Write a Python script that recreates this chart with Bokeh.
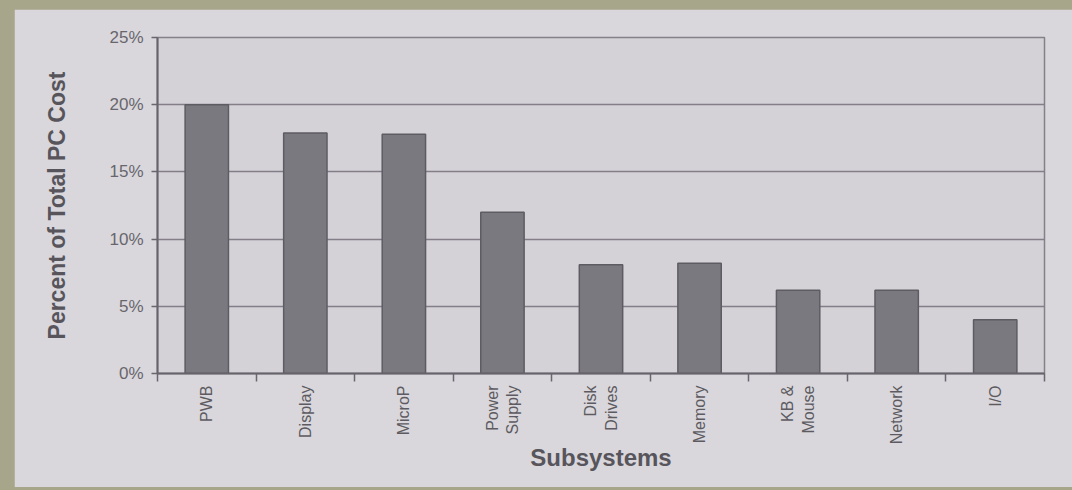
import math
from bokeh.plotting import figure
from bokeh.models import FixedTicker, PrintfTickFormatter, Range1d, ColumnDataSource
from bokeh.layouts import column
from bokeh.embed import file_html
from bokeh.resources import INLINE

# ---- data ----
categories = ["PWB", "Display", "MicroP", "Power\nSupply", "Disk\nDrives",
              "Memory", "KB &\nMouse", "Network", "I/O"]
cost_share = [20.0, 17.9, 17.8, 12.0, 8.1, 8.2, 6.2, 6.2, 4.0]   # percent of total PC cost
y_ticks = [0, 5, 10, 15, 20, 25]

positions = [i + 0.5 for i in range(len(categories))]
src = ColumnDataSource(dict(x=positions, top=cost_share, name=categories))

PAPER = "#d9d7dc"
PLOT_BG = "#d4d2d7"
BORDER_GREEN = "#a7a68a"
TEXT = "#5d5b61"

p = figure(width=1058, height=478, output_backend="svg", toolbar_location=None,
           x_range=Range1d(0, len(categories)), y_range=Range1d(0, 25),
           min_border_left=143, min_border_right=28, min_border_top=28, min_border_bottom=114,
           border_fill_color=PAPER, background_fill_color=PLOT_BG,
           outline_line_color="#858088", outline_line_width=1.5)

p.vbar(x="x", top="top", width=0.44, source=src,
       fill_color="#7b7980", line_color="#5e5c63", line_width=1.5)

# x axis: labels at category centres, small ticks at category boundaries
xa = p.xaxis[0]
xa.ticker = FixedTicker(ticks=positions, minor_ticks=list(range(len(categories) + 1)))
xa.major_label_overrides = {pos: lab for pos, lab in zip(positions, categories)}
xa.major_label_orientation = math.pi / 2
xa.major_tick_out = 0
xa.major_tick_in = 0
xa.minor_tick_out = 8
xa.minor_tick_in = 0
xa.minor_tick_line_color = "#6a666e"
xa.minor_tick_line_width = 1.5
xa.major_label_standoff = 4
xa.major_label_text_font = "Liberation Sans"
xa.major_label_text_font_size = "16px"
xa.major_label_text_color = TEXT
xa.axis_line_color = "#67636b"
xa.axis_line_width = 2
xa.axis_label = "Subsystems"
xa.axis_label_text_font = "Liberation Sans"
xa.axis_label_text_font_style = "bold"
xa.axis_label_text_font_size = "24px"
xa.axis_label_text_color = "#57555b"
xa.axis_label_standoff = -3

# y axis
ya = p.yaxis[0]
ya.ticker = FixedTicker(ticks=y_ticks)
ya.formatter = PrintfTickFormatter(format="%d%%")
ya.major_tick_out = 6
ya.major_tick_in = 0
ya.minor_tick_out = 0
ya.minor_tick_in = 0
ya.major_tick_line_color = "#6a666e"
ya.major_tick_line_width = 1.5
ya.major_label_standoff = 8
ya.major_label_text_font = "Liberation Sans"
ya.major_label_text_font_size = "17px"
ya.major_label_text_color = "#68666c"
ya.axis_line_color = "#67636b"
ya.axis_line_width = 2
ya.axis_label = "Percent of Total PC Cost"
ya.axis_label_text_font = "Liberation Sans"
ya.axis_label_text_font_style = "bold"
ya.axis_label_text_font_size = "23px"
ya.axis_label_text_color = "#57555b"
ya.axis_label_standoff = 36

p.xgrid.visible = False
p.ygrid.ticker = FixedTicker(ticks=y_ticks)
p.ygrid.grid_line_color = "#837e88"
p.ygrid.grid_line_width = 1.5

layout = column(p, width=1072, height=490,
                styles={"background-color": BORDER_GREEN,
                        "padding": "9px 0px 3px 14px",
                        "box-sizing": "border-box"})

open("out.html", "w").write(file_html(layout, INLINE))
